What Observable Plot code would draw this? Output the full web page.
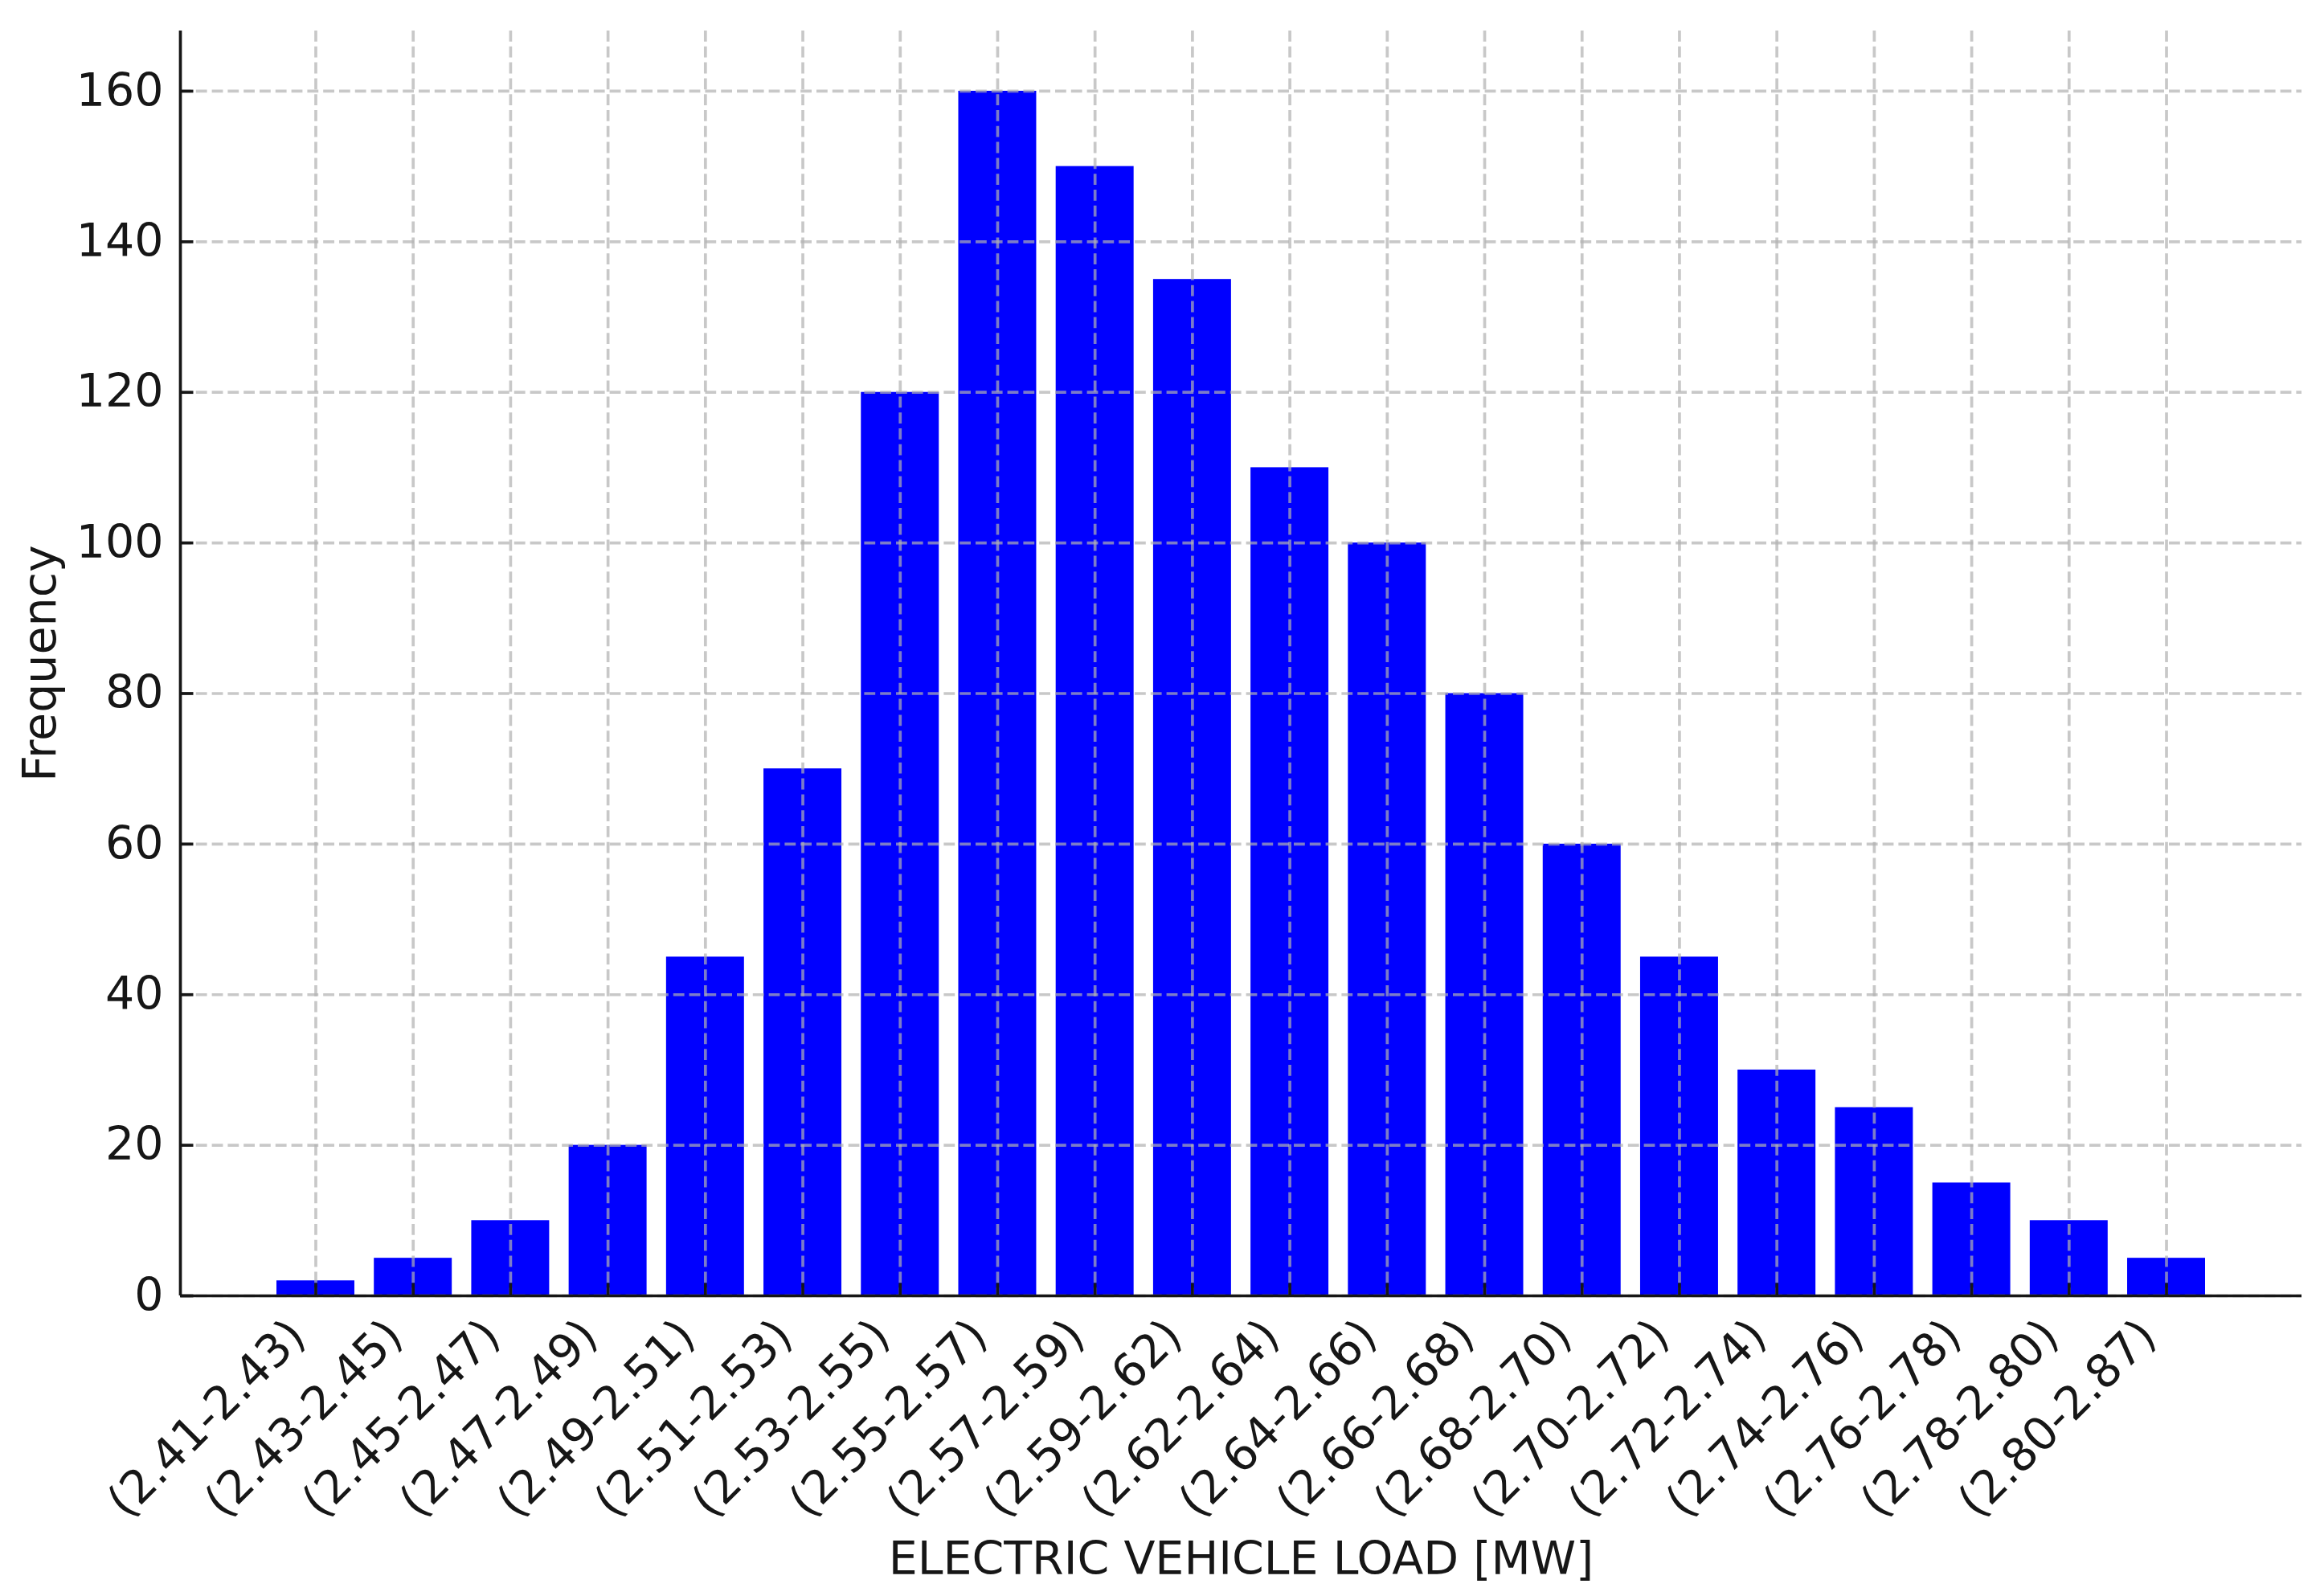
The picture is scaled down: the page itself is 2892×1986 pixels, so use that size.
<!DOCTYPE html>
<html><head><meta charset="utf-8">
<script src="https://cdn.jsdelivr.net/npm/d3@7"></script>
<script src="https://cdn.jsdelivr.net/npm/@observablehq/plot@0.6"></script>
<style>html,body{margin:0;padding:0;background:#fff;}</style>
</head><body><div id="chart"></div>
<script>
const categories = ["(2.41-2.43)", "(2.43-2.45)", "(2.45-2.47)", "(2.47-2.49)", "(2.49-2.51)",
  "(2.51-2.53)", "(2.53-2.55)", "(2.55-2.57)", "(2.57-2.59)", "(2.59-2.62)",
  "(2.62-2.64)", "(2.64-2.66)", "(2.66-2.68)", "(2.68-2.70)", "(2.70-2.72)",
  "(2.72-2.74)", "(2.74-2.76)", "(2.76-2.78)", "(2.78-2.80)", "(2.80-2.87)"];
const frequencies = [2, 5, 10, 20, 45, 70, 120, 160, 150, 135, 110, 100, 80, 60, 45, 30, 25, 15, 10, 5];
const yTicks = [0, 20, 40, 60, 80, 100, 120, 140, 160];
const xLabel = "ELECTRIC VEHICLE LOAD [MW]";
const yLabel = "Frequency";

const data = categories.map((c, i) => ({i, c, f: frequencies[i]}));
const n = categories.length;
const barHalf = 0.4;
const xPad = 0.05 * (n - 1 + 2 * barHalf);
const xDomain = [-barHalf - xPad, n - 1 + barHalf + xPad];
const yDomain = [0, d3.max(frequencies) * 1.05];

const ink = "#161616";
const fs = 57;
const lw = 3.7;
const tickShape = {draw(ctx, l) { ctx.moveTo(0, 0); ctx.lineTo(0, -l); }};
const gridStyle = {stroke: "#b0b0b0", strokeOpacity: 0.7, strokeWidth: lw, strokeDasharray: "13.8,6"};

const chart = Plot.plot({
  width: 2892, height: 1986,
  marginLeft: 224, marginRight: 28, marginTop: 38, marginBottom: 374,
  style: {fontFamily: "'DejaVu Sans', sans-serif", fontSize: fs + "px", background: "#fff", color: ink},
  x: {type: "linear", domain: xDomain, axis: null},
  y: {domain: yDomain, axis: null},
  marks: [
    Plot.rectY(data, {x1: d => d.i - barHalf, x2: d => d.i + barHalf, y1: 0, y2: "f", fill: "#0000ff"}),
    Plot.ruleX(data, {x: "i", ...gridStyle}),
    Plot.ruleY(yTicks, {y: d => d, ...gridStyle}),
    Plot.vector(data, {x: "i", y: 0, length: 16, anchor: "start", shape: tickShape, stroke: ink, strokeWidth: lw, strokeLinecap: "butt"}),
    Plot.vector(yTicks, {y: d => d, frameAnchor: "left", rotate: 90, length: 16, anchor: "start", shape: tickShape, stroke: ink, strokeWidth: lw, strokeLinecap: "butt"}),
    Plot.ruleY([0], {stroke: ink, strokeWidth: lw}),
    Plot.ruleX([xDomain[0]], {stroke: ink, strokeWidth: lw}),
    Plot.text(yTicks, {y: d => d, frameAnchor: "left", text: d => String(d), textAnchor: "end", lineAnchor: "middle", dx: -21, fontSize: fs, fill: ink}),
    Plot.text(data, {x: "i", y: 0, text: "c", rotate: -45, textAnchor: "end", lineAnchor: "middle", dx: -23, dy: 40, fontSize: fs, fill: ink}),
    Plot.text([yLabel], {frameAnchor: "left", rotate: -90, textAnchor: "middle", lineAnchor: "bottom", dx: -156, fontSize: fs, fill: ink}),
    Plot.text([xLabel], {frameAnchor: "bottom", textAnchor: "middle", lineAnchor: "bottom", dy: 346, fontSize: fs, fill: ink})
  ]
});
document.getElementById("chart").appendChild(chart);
</script>
</body></html>
